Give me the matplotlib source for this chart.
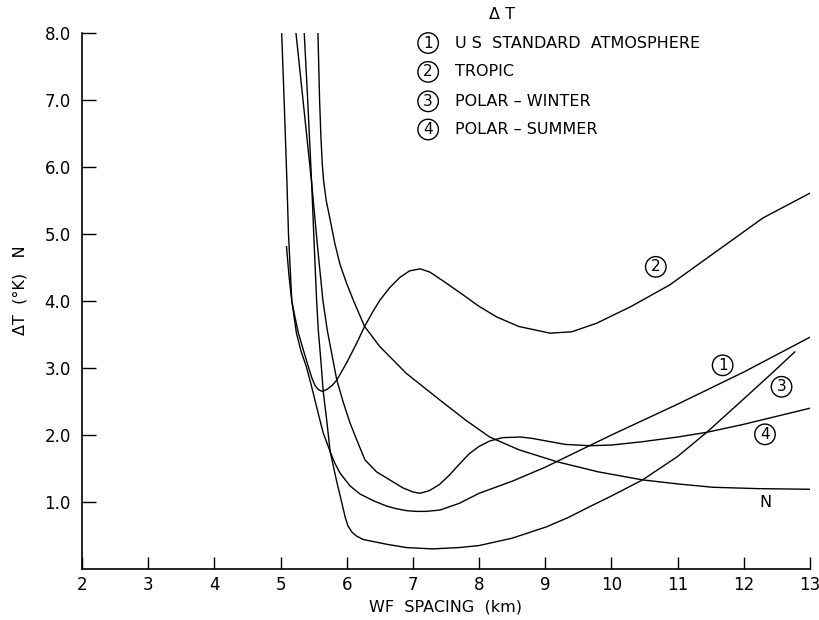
import matplotlib
matplotlib.use("Agg")
import matplotlib.pyplot as plt

plt.rcParams['font.family'] = ['DejaVu Sans']

# ---- data ----
c1_x = [5.09, 5.13, 5.17, 5.24, 5.31, 5.39, 5.46, 5.52, 5.58, 5.645, 5.75, 5.82, 5.90, 6.05,
        6.20, 6.40, 6.60, 6.75, 6.91, 7.05, 7.20, 7.41, 7.70, 8.00, 8.50, 9.00, 9.50, 10.0,
        10.5, 11.0, 11.5, 12.0, 12.5, 13.0]
c1_y = [4.81, 4.35, 4.00, 3.52, 3.25, 3.02, 2.76, 2.52, 2.28, 2.03, 1.75, 1.58, 1.43, 1.24,
        1.12, 1.02, 0.94, 0.90, 0.87, 0.86, 0.86, 0.88, 0.98, 1.13, 1.31, 1.52, 1.76, 2.00,
        2.23, 2.46, 2.70, 2.94, 3.20, 3.46]

c2_x = [5.017, 5.054, 5.097, 5.12, 5.15, 5.17, 5.22, 5.27, 5.35, 5.42, 5.47, 5.52, 5.57, 5.63,
        5.70, 5.78, 5.85, 6.00, 6.15, 6.27, 6.40, 6.50, 6.65, 6.80, 6.95, 7.11, 7.26, 7.50,
        7.76, 8.00, 8.27, 8.60, 9.07, 9.40, 9.78, 10.3, 10.88, 11.5, 12.29, 13.0]
c2_y = [8.0, 7.0, 5.76, 5.0, 4.4, 4.0, 3.75, 3.52, 3.25, 3.02, 2.86, 2.74, 2.68, 2.65,
        2.68, 2.74, 2.82, 3.08, 3.37, 3.62, 3.85, 4.01, 4.20, 4.35, 4.45, 4.48, 4.43, 4.27,
        4.09, 3.92, 3.76, 3.62, 3.52, 3.54, 3.67, 3.92, 4.24, 4.68, 5.24, 5.61]

c3_x = [5.358, 5.41, 5.47, 5.51, 5.545, 5.57, 5.61, 5.645, 5.70, 5.75, 5.85, 5.93, 5.98, 6.02,
        6.08, 6.15, 6.25, 6.40, 6.60, 6.90, 7.30, 7.70, 8.00, 8.50, 9.02, 9.35, 9.67, 10.0,
        10.47, 11.0, 11.44, 12.0, 12.40, 12.77]
c3_y = [8.0, 7.0, 5.76, 4.8, 4.01, 3.57, 3.10, 2.65, 2.20, 1.75, 1.30, 0.97, 0.76, 0.64,
        0.55, 0.49, 0.44, 0.41, 0.37, 0.32, 0.30, 0.32, 0.35, 0.46, 0.63, 0.77, 0.93, 1.09,
        1.33, 1.68, 2.04, 2.54, 2.90, 3.24]

c4_x = [5.233, 5.35, 5.47, 5.56, 5.64, 5.705, 5.78, 5.85, 5.95, 6.05, 6.15, 6.275, 6.45, 6.65,
        6.85, 7.00, 7.11, 7.25, 7.40, 7.55, 7.66, 7.85, 8.00, 8.16, 8.35, 8.62, 8.80, 9.02,
        9.30, 9.67, 10.0, 10.47, 11.0, 11.44, 12.0, 12.5, 13.0]
c4_y = [8.0, 6.9, 5.76, 4.8, 4.01, 3.57, 3.18, 2.82, 2.48, 2.18, 1.93, 1.63, 1.45, 1.33,
        1.21, 1.15, 1.13, 1.17, 1.26, 1.40, 1.52, 1.72, 1.83, 1.91, 1.96, 1.97, 1.95, 1.91,
        1.86, 1.84, 1.85, 1.90, 1.97, 2.04, 2.16, 2.28, 2.40]

n_x = [5.565, 5.59, 5.61, 5.63, 5.65, 5.69, 5.75, 5.82, 5.90, 6.00, 6.10, 6.27, 6.50, 6.90,
       7.41, 7.80, 8.16, 8.60, 9.18, 9.80, 10.47, 11.0, 11.53, 12.2, 13.0]
n_y = [8.0, 7.0, 6.45, 6.05, 5.80, 5.50, 5.21, 4.86, 4.54, 4.26, 4.01, 3.62, 3.32, 2.92,
       2.52, 2.22, 1.97, 1.78, 1.60, 1.45, 1.33, 1.27, 1.22, 1.20, 1.19]

curve_tags = ['1', '2', '3', '4']
tag_x = [11.68, 10.67, 12.57, 12.32]
tag_y = [3.04, 4.51, 2.72, 2.01]
n_label = 'N'
n_label_xy = (12.32, 0.99)

legend_title = '\u0394 T'
legend_names = ['U S  STANDARD  ATMOSPHERE', 'TROPIC', 'POLAR \u2013 WINTER', 'POLAR \u2013 SUMMER']

x_ticks = [2, 3, 4, 5, 6, 7, 8, 9, 10, 11, 12, 13]
y_ticks = [1.0, 2.0, 3.0, 4.0, 5.0, 6.0, 7.0, 8.0]

# ---- figure ----
fig = plt.figure(figsize=(8.19, 6.2), dpi=100)
ax = fig.add_axes([82 / 819, 51 / 620, 728 / 819, 536 / 620])

lw = 1.0
for xs, ys in [(c1_x, c1_y), (c2_x, c2_y), (c3_x, c3_y), (c4_x, c4_y), (n_x, n_y)]:
    ax.plot(xs, ys, color='black', lw=lw, solid_joinstyle='round')

ax.set_xlim(2, 13)
ax.set_ylim(0, 8)
ax.spines['top'].set_visible(False)
ax.spines['right'].set_visible(False)
ax.spines['left'].set_linewidth(1.2)
ax.spines['bottom'].set_linewidth(1.2)

ax.set_xticks(x_ticks)
ax.set_xticklabels([str(v) for v in x_ticks])
ax.set_yticks(y_ticks)
ax.set_yticklabels(['%.1f' % v for v in y_ticks])
ax.tick_params(axis='x', direction='in', length=9, width=1.0, pad=5, labelsize=12)
ax.tick_params(axis='y', direction='in', length=10, width=1.0, pad=8, labelsize=12)

ax.set_xlabel('WF  SPACING  (km)', fontsize=11.5, va='center')
ax.xaxis.set_label_coords(0.5, (569 - 607) / 536)
ax.set_ylabel('\u0394T  (\u00b0K)   N', fontsize=11.5, va='center')
ax.yaxis.set_label_coords((20 - 82) / 728, 0.52)

circ = dict(boxstyle='circle,pad=0.18', fc='white', ec='black', lw=1.0)
for t, x, y in zip(curve_tags, tag_x, tag_y):
    ax.text(x, y, t, ha='center', va='center', fontsize=11, bbox=circ)
ax.text(n_label_xy[0], n_label_xy[1], n_label, ha='center', va='center', fontsize=11.5)

# legend block (data coordinates, partly above the axes)
leg_circle_x = 7.23
leg_text_x = 7.63
leg_rows_y = [7.85, 7.42, 6.98, 6.56]
ax.text(8.35, 8.27, legend_title, ha='center', va='center', fontsize=11.5, clip_on=False)
for t, name, y in zip(curve_tags, legend_names, leg_rows_y):
    ax.text(leg_circle_x, y, t, ha='center', va='center', fontsize=11, bbox=circ, clip_on=False)
    ax.text(leg_text_x, y, name, ha='left', va='center', fontsize=11.5, clip_on=False)

fig.savefig('out.png', dpi=100)
